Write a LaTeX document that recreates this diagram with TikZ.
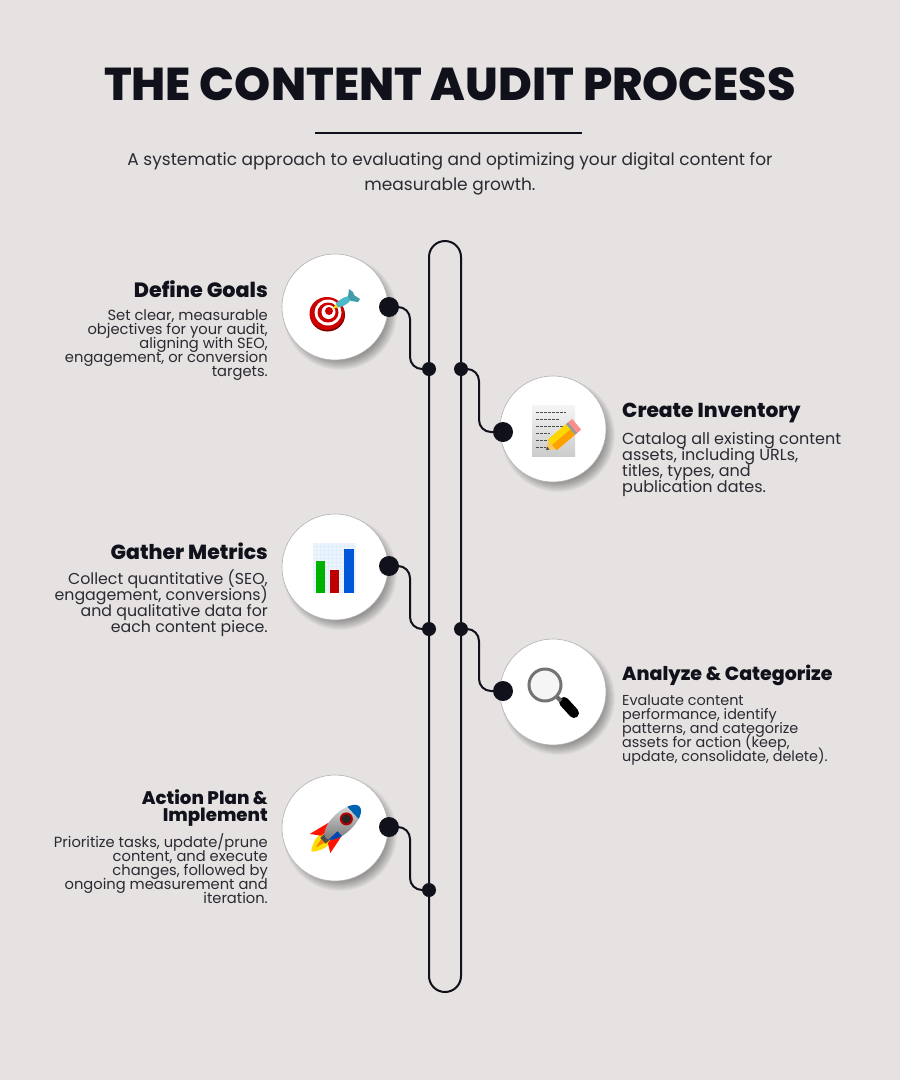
\documentclass[tikz,border=0pt]{standalone}
\usepackage{fontspec}
\setmainfont{Poppins}
\newfontfamily\titlefont{Poppins ExtraBold}
\usetikzlibrary{positioning, shapes.geometric}
\definecolor{paper}{HTML}{E5E2E1}
\definecolor{ink}{HTML}{10111A}
\definecolor{bodyink}{HTML}{2A2A32}
\definecolor{dartblue}{HTML}{4DB8C8}
\newcommand{\tightlines}{\lineskiplimit=-20pt}

\begin{document}
\begin{tikzpicture}[x=1pt, y=-1pt,
  headsize/.style={font=\titlefont\fontsize{#1}{17}\selectfont\tightlines},
  headleft/.style={anchor=north east, inner sep=0pt, align=right, text=ink},
  headright/.style={anchor=north west, inner sep=0pt, align=left, text=ink},
  textsize/.style 2 args={font=\fontsize{#1}{#2}\selectfont\tightlines},
  textleft/.style={anchor=north east, inner sep=0pt, align=right, text=bodyink},
  textright/.style={anchor=north west, inner sep=0pt, align=left, text=bodyink},
  iconcircle/.style={circle, fill=white, draw=black!30, line width=0.6pt,
    minimum size=106pt, inner sep=0pt},
  bigdot/.style={circle, fill=ink, minimum size=20pt, inner sep=0pt},
  smalldot/.style={circle, fill=ink, minimum size=14pt, inner sep=0pt},
  wire/.style={draw=ink, line width=2pt, rounded corners=12pt}]

  \fill[paper] (0,0) rectangle (900,1080);
  \useasboundingbox (0,0) rectangle (900,1080);

  % heading
  \node[text=ink, font=\titlefont\fontsize{46}{50}\selectfont] (title) at (450,84)
  {THE CONTENT AUDIT PROCESS};
  \coordinate (rule start) at (315,132.5);
  \coordinate (rule end)   at (582,132.5);
  \draw[ink, line width=2pt] (rule start) -- (rule end);
  \node[text=bodyink, align=center, font=\fontsize{17}{25}\selectfont] (subtitle) at (450,173.5)
  {A systematic approach to evaluating and optimizing your digital content for\\measurable growth.};

  % round icon holders with their soft shadow
  \foreach \name/\x/\y in {c1/335/307, c2/553/429, c3/335/567, c4/553/692, c5/335/828} {
    \foreach \r in {46,47,...,57}
      \fill[black, opacity=0.035] (\x+5,\y+6) circle[radius=\r pt];
    \node[iconcircle] (\name) at (\x,\y) {};
  }

  % track
  \node[draw=ink, line width=2pt, rounded corners=16pt, minimum width=32pt,
    minimum height=751pt, inner sep=0pt] (track) at (445,616.5) {};

  \node[smalldot] (j1) at (429,369) {};
  \node[smalldot] (j2) at (461,369) {};
  \node[smalldot] (j3) at (429,629) {};
  \node[smalldot] (j4) at (461,629) {};
  \node[smalldot] (j5) at (429,890) {};

  \node[bigdot] (d1) at (389,307) {};
  \node[bigdot] (d2) at (503,432) {};
  \node[bigdot] (d3) at (389,566) {};
  \node[bigdot] (d4) at (503,691) {};
  \node[bigdot] (d5) at (389,827) {};

  \coordinate (b1) at (410,369);
  \coordinate (b2) at (479,432);
  \coordinate (b3) at (410,629);
  \coordinate (b4) at (479,691);
  \coordinate (b5) at (410,890);

  \draw[wire] (d1) -| (b1) -- (j1);
  \draw[wire] (j2) -| (b2) -- (d2);
  \draw[wire] (d3) -| (b3) -- (j3);
  \draw[wire] (j4) -| (b4) -- (d4);
  \draw[wire] (d5) -| (b5) -- (j5);

  % labels
  \node[headleft, headsize=20.7]  (goals head) at (268,280) {Define Goals};
  \node[textleft, textsize={14.7}{14}, below=12pt of goals head.south east, anchor=north east] (goals text)
  {Set clear, measurable\\objectives for your audit,\\aligning with SEO,\\engagement, or conversion\\targets.};

  \node[headright, headsize=20.2] (inventory head) at (622,402.5) {Create Inventory};
  \node[textright, textsize={16}{16}, below=9pt of inventory head.south west, anchor=north west] (inventory text)
  {Catalog all existing content\\assets, including URLs,\\titles, types, and\\publication dates.};

  \node[headleft, headsize=20.4]  (metrics head) at (268,543) {Gather Metrics};
  \node[textleft, textsize={15.8}{16}, below=9pt of metrics head.south east, anchor=north east] (metrics text)
  {Collect quantitative (SEO,\\engagement, conversions)\\and qualitative data for\\each content piece.};

  \node[headright, headsize=19] (analyze head) at (622,664.5) {Analyze \& Categorize};
  \node[textright, textsize={14.4}{14}, below=9pt of analyze head.south west, anchor=north west] (analyze text)
  {Evaluate content\\performance, identify\\patterns, and categorize\\assets for action (keep,\\update, consolidate, delete).};

  \node[headleft, headsize=18.2]  (action head) at (268,789.5) {Action Plan \&\\Implement};
  \node[textleft, textsize={14.7}{14}, below=7pt of action head.south east, anchor=north east] (action text)
  {Prioritize tasks, update/prune\\content, and execute\\changes, followed by\\ongoing measurement and\\iteration.};

  % target
  \fill[red!45!black] (327.5,315) ellipse[x radius=17.5, y radius=16.5];
  \fill[red!80!black] (327,313.5) ellipse[x radius=17.5, y radius=16.5];
  \fill[white] (328,312.5) ellipse[x radius=13.5, y radius=13];
  \fill[red!80!black] (328,312.5) ellipse[x radius=10.5, y radius=10];
  \fill[white] (328.5,312) ellipse[x radius=7, y radius=7];
  \fill[red!80!black] (329,311) circle[radius=4pt];
  \fill[yellow!80!orange] (332,309) -- (337,303) -- (339,307) -- cycle;
  \fill[dartblue] (336,303.5) .. controls (341,298) and (346,296) .. (351,296)
    .. controls (352,299) and (350,302) .. (348,303) .. controls (344,306) and (341,307) .. (338,307.5) -- cycle;
  \fill[dartblue!85!black] (348,297) -- (349,289) -- (353,292) -- (354,295) -- (360,299) -- (358,302) -- (351,301) -- cycle;

  % sheet and pencil
  \shade[top color=black!4, bottom color=black!20] (532,405) rectangle (575,456);
  \foreach \y/\w in {412/30, 419/24, 426/32, 433/14, 440/22, 447/10}
    \draw[black!70, line width=0.5pt, dash pattern=on 3pt off 1pt] (536,\y) -- ++(\w,0);
  \begin{scope}[shift={(546,450)}, rotate=40]
    \fill[yellow!30!orange!60!white] (0,0) -- (9,-6.5) -- (9,6.5) -- cycle;
    \fill[black!70] (0,0) -- (3,-2) -- (3,2) -- cycle;
    \fill[yellow!75!orange] (8,-7) rectangle (32,7);
    \fill[orange!75!yellow] (8,0) rectangle (32,7);
    \fill[black!40] (32,-7) rectangle (35,7);
    \fill[red!45!white] (35,-7) rectangle (40,7);
  \end{scope}

  % chart
  \fill[blue!5] (313,543) rectangle (356,593);
  \foreach \x in {316,320,...,354}
    \draw[cyan!15, line width=0.3pt] (\x,543) -- (\x,593);
  \foreach \y in {546,550,...,590}
    \draw[cyan!15, line width=0.3pt] (313,\y) -- (356,\y);
  \fill[green!70!black] (316,561) rectangle (325,593);
  \fill[red!75!black] (330,570) rectangle (339,593);
  \fill[blue!60!cyan!85!black] (344,549) rectangle (354,593);

  % magnifier
  \draw[black, line width=10pt, line cap=round] (564,702) -- (574,713);
  \draw[black!60, line width=4pt] (556,696) -- (561,701);
  \fill[black!4] (545,685) circle[radius=16pt];
  \draw[black!55, line width=3pt] (545,685) circle[radius=16pt];

  % rocket
  \begin{scope}[shift={(342,823)}, rotate=43]
    \fill[yellow!80!orange] (-20,-6) .. controls (-30,-8) and (-36,-5) .. (-42,0)
      .. controls (-36,5) and (-30,8) .. (-20,6) -- cycle;
    \fill[orange] (-20,-4) -- (-36,0) -- (-20,4) -- cycle;
    \fill[red!85!orange] (-8,-9) -- (-31,-14) -- (-24,-5) -- (-12,-4) -- cycle;
    \fill[red!85!orange] (-8,9) -- (-29,14) -- (-24,5) -- (-12,4) -- cycle;
    \fill[black!70] (-26,-4) rectangle (-19,4);
    \shade[top color=black!12, bottom color=black!55] (1,0) ellipse[x radius=23, y radius=10.5];
    \begin{scope}
      \clip (1,0) ellipse[x radius=23, y radius=10.5];
      \fill[blue!45!cyan!70!black] (15,-11) rectangle (25,11);
      \fill[blue!60!cyan!70!black] (-23,3) rectangle (-9,11);
    \end{scope}
    \fill[red!70!black] (6,0) ellipse[x radius=6.5, y radius=6.5];
    \fill[black!85] (6,0) ellipse[x radius=4.5, y radius=4.5];
  \end{scope}
\end{tikzpicture}
\end{document}
